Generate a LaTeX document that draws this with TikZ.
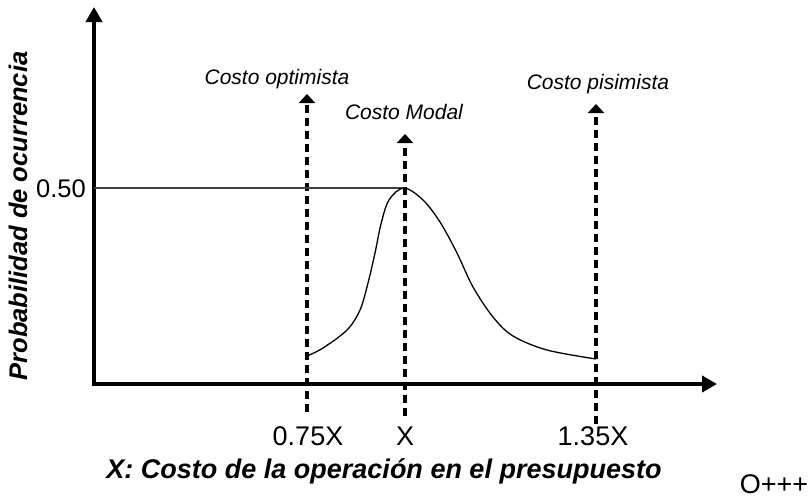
\documentclass[tikz,border=0pt]{standalone}
\usepackage{fontspec}
\setmainfont{Liberation Sans}
\usetikzlibrary{arrows.meta}

\begin{document}
\begin{tikzpicture}[x=1pt, y=-1pt]
    \tikzstyle{axis} = [draw, line width=4.5pt, -{Triangle[width=16pt, length=15pt]}]
    \tikzstyle{marker} = [draw, line width=3.5pt, dash pattern=on 8pt off 5pt, -{Triangle[width=16pt, length=9pt]}]
    \tikzstyle{level} = [draw, black!75, line width=1.5pt]
    \tikzstyle{curve} = [draw, line width=1.3pt]
    \tikzstyle{tag} = [inner sep=0pt, font=\fontsize{21}{25}\selectfont\itshape]
    \tikzstyle{val} = [inner sep=0pt, font=\fontsize{27}{32}\selectfont]
    \tikzstyle{title} = [inner sep=0pt, font=\fontsize{27}{32}\selectfont\bfseries\itshape]

    \useasboundingbox (0,0) rectangle (811,499);

    % axes
    \coordinate (origin) at (94,384);
    \coordinate (ytop) at (94,7);
    \coordinate (xend) at (717,384);
    \draw [axis] (94,386.2) -- (ytop);
    \draw [axis] (91.8,384) -- (xend);

    % cost markers
    \coordinate (optlow) at (307,412);
    \coordinate (opthigh) at (307,94);
    \coordinate (modlow) at (405,416);
    \coordinate (modhigh) at (405,134);
    \coordinate (pesslow) at (596,424);
    \coordinate (pesshigh) at (596,104);
    \draw [marker] (optlow) -- (opthigh);
    \draw [marker] (modlow) -- (modhigh);
    \draw [marker] (pesslow) -- (pesshigh);

    % probability curve
    \coordinate (peak) at (404,188);
    \draw [level] (origin |- peak) -- (peak);
    \draw [curve] plot [smooth, tension=0.55] coordinates {(307,356) (323,348) (347,330) (360,310) (368,283) (375,253) (381,224) (389,200) (404,188)
        (423,200) (440,222) (457,253) (473,287) (493,317) (513,336) (547,350) (596,359)};

    % labels
    \node [tag] (optlabel) at (277,79) {Costo optimista};
    \node [tag] (modlabel) at (404,112) {Costo Modal};
    \node [tag] (pesslabel) at (598,84) {Costo pisimista};
    \node [val, anchor=east, font=\fontsize{25.5}{30}\selectfont] (half) at (86,189) {0.50};
    \node [val] (optval) at (308,436) {0.75X};
    \node [val] (modval) at (405,436) {X};
    \node [val] (pessval) at (593,436) {1.35X};
    \node [title] (xlabel) at (384,471) {X: Costo de la operación en el presupuesto};
    \node [title, font=\fontsize{25.5}{30}\selectfont\bfseries\itshape, rotate=90] (ylabel) at (18,216) {Probabilidad de ocurrencia};
    \node [val] (mark) at (774,484) {O+++};
\end{tikzpicture}
\end{document}
